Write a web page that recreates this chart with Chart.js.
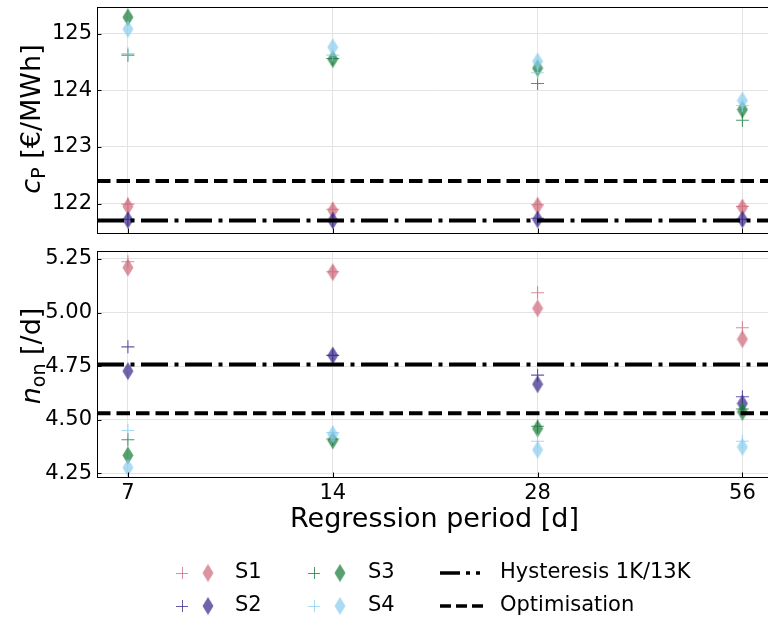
<!DOCTYPE html>
<html>
<head>
<meta charset="utf-8">
<script src="https://cdn.jsdelivr.net/npm/chart.js@4.4.1/dist/chart.umd.min.js"></script>
<style>
html, body { margin: 0; padding: 0; overflow: hidden; background: #fff; }
#wrap { position: relative; width: 768px; height: 622px; }
#top { position: absolute; left: 0; top: 0; }
#bottom { position: absolute; left: 0; top: 240px; }
</style>
</head>
<body>
<div id="wrap">
  <canvas id="top" width="768" height="240"></canvas>
  <canvas id="bottom" width="768" height="382"></canvas>
</div>
<script>
const periods = ['7', '14', '28', '56'];
const seriesNames = ['S1', 'S2', 'S3', 'S4'];
const seriesColors = ['204, 102, 119', '51, 34, 136', '17, 119, 51', '136, 204, 238'];

// cost c_P [€/MWh], "+" and diamond markers
const costPlusS1 = [121.99, 121.90, 121.98, 121.95];
const costPlusS2 = [121.72, 121.70, 121.74, 121.72];
const costPlusS3 = [124.62, 124.56, 124.12, 123.47];
const costPlusS4 = [124.65, 124.62, 124.31, 123.73];
const costDiamondS1 = [121.95, 121.88, 121.96, 121.93];
const costDiamondS2 = [121.71, 121.70, 121.72, 121.72];
const costDiamondS3 = [125.29, 124.55, 124.39, 123.66];
const costDiamondS4 = [125.08, 124.76, 124.51, 123.82];

// starts per day n_on [/d]
const startsPlusS1 = [5.237, 5.19, 5.092, 4.929];
const startsPlusS2 = [4.84, 4.80, 4.708, 4.607];
const startsPlusS3 = [4.407, 4.41, 4.47, 4.55];
const startsPlusS4 = [4.45, 4.44, 4.40, 4.40];
const startsDiamondS1 = [5.21, 5.188, 5.02, 4.876];
const startsDiamondS2 = [4.727, 4.80, 4.666, 4.576];
const startsDiamondS3 = [4.334, 4.404, 4.459, 4.537];
const startsDiamondS4 = [4.277, 4.432, 4.36, 4.373];

// reference lines
const hysteresisCost = 121.70;
const optimisationCost = 122.40;
const hysteresisStarts = 4.758;
const optimisationStarts = 4.530;

const costTicks = [122, 123, 124, 125];
const startsTicks = [4.25, 4.50, 4.75, 5.00, 5.25];

const xMin = -0.151, xMax = 3.125;
const FONT = 'DejaVu Sans';

function toPoints(arr) {
  return arr.map((v, i) => ({ x: i, y: v }));
}

function diamondImage(rgb) {
  const c = document.createElement('canvas');
  c.width = 12; c.height = 19;
  const g = c.getContext('2d');
  g.fillStyle = 'rgba(' + rgb + ', 0.7)';
  g.beginPath();
  g.moveTo(6, 0.5); g.lineTo(11.5, 9.5); g.lineTo(6, 18.5); g.lineTo(0.5, 9.5);
  g.closePath();
  g.fill();
  return c;
}
const diamonds = seriesColors.map(diamondImage);

function buildDatasets(plusArrays, diamondArrays, hyst, opt) {
  const out = [];
  seriesNames.forEach((name, i) => {
    const col = 'rgba(' + seriesColors[i] + ', 0.75)';
    out.push({
      label: name + ' (+)', data: toPoints(plusArrays[i]),
      pointStyle: 'cross', pointRadius: 6.5, borderColor: col, backgroundColor: col,
      borderWidth: 1.1, order: 100 - 2 * i
    });
    out.push({
      label: name, data: toPoints(diamondArrays[i]),
      pointStyle: diamonds[i], pointRadius: 9, order: 99 - 2 * i
    });
  });
  out.push({
    label: 'Hysteresis 1K/13K', data: [{ x: xMin, y: hyst }, { x: xMax, y: hyst }],
    showLine: true, pointRadius: 0, borderColor: '#000', borderWidth: 4,
    borderDash: [27, 6.5, 4, 6.5], borderCapStyle: 'butt', order: 1
  });
  out.push({
    label: 'Optimisation', data: [{ x: xMin, y: opt }, { x: xMax, y: opt }],
    showLine: true, pointRadius: 0, borderColor: '#000', borderWidth: 4,
    borderDash: [13.5, 6], borderCapStyle: 'butt', order: 0
  });
  return out;
}

function drawMathLabel(ctx, parts, x, y) {
  ctx.save();
  ctx.translate(x, y);
  ctx.rotate(-Math.PI / 2);
  ctx.fillStyle = '#000';
  ctx.textBaseline = 'alphabetic';
  let w = 0;
  parts.forEach(p => { ctx.font = p.font; w += ctx.measureText(p.text).width; });
  let cx = -w / 2;
  parts.forEach(p => {
    ctx.font = p.font;
    ctx.fillText(p.text, cx, p.dy);
    cx += ctx.measureText(p.text).width;
  });
  ctx.restore();
}

function axesPlugin(id, labelParts, labelY, extra) {
  return {
    id: id,
    afterDraw(chart) {
      const ctx = chart.ctx;
      const a = chart.chartArea;
      ctx.save();
      ctx.strokeStyle = '#000';
      ctx.lineWidth = 1;
      // inward ticks
      ctx.beginPath();
      chart.scales.y.ticks.forEach(t => {
        const py = Math.round(chart.scales.y.getPixelForValue(t.value)) + 0.5;
        ctx.moveTo(a.left, py); ctx.lineTo(a.left + 4.5, py);
      });
      chart.scales.x.ticks.forEach(t => {
        const px = Math.round(chart.scales.x.getPixelForValue(t.value)) + 0.5;
        ctx.moveTo(px, a.bottom); ctx.lineTo(px, a.bottom - 4.5);
      });
      ctx.stroke();
      ctx.strokeRect(Math.round(a.left) + 0.5, Math.round(a.top) + 0.5,
        Math.round(a.right - a.left), Math.round(a.bottom - a.top));
      ctx.restore();
      drawMathLabel(ctx, labelParts, 40, labelY);
      if (extra) extra(ctx, chart);
    }
  };
}

function makeConfig(datasets, yMin, yMax, yTicks, yFmt, showX, plugin, padding, xHeight) {
  return {
    type: 'scatter',
    data: { datasets: datasets },
    options: {
      responsive: false,
      animation: false,
      layout: { padding: padding, autoPadding: false },
      plugins: { legend: { display: false }, tooltip: { enabled: false } },
      scales: {
        x: {
          type: 'linear', min: xMin, max: xMax,
          afterBuildTicks: s => { s.ticks = periods.map((p, i) => ({ value: i })); },
          afterFit: s => { s.height = xHeight; s.paddingLeft = 0; s.paddingRight = 0; },
          grid: { color: '#e3e3e3', lineWidth: 1, drawTicks: false },
          border: { display: false },
          ticks: {
            display: showX, padding: 4, color: '#000',
            font: { family: FONT, size: 21 },
            callback: (v, i) => periods[i]
          }
        },
        y: {
          min: yMin, max: yMax,
          afterBuildTicks: s => { s.ticks = yTicks.map(v => ({ value: v })); },
          afterFit: s => { s.width = 97; s.paddingTop = 0; s.paddingBottom = 0; },
          grid: { color: '#e3e3e3', lineWidth: 1, drawTicks: false },
          border: { display: false },
          ticks: {
            padding: 5, color: '#000',
            font: { family: FONT, size: 21 },
            callback: v => yFmt(v)
          }
        }
      }
    },
    plugins: [plugin]
  };
}

function drawLegend(ctx, chart) {
  const rows = [333, 366];
  const cols = [[182, 208, 235], [314, 340, 368]];
  ctx.save();
  ctx.font = '21px ' + FONT;
  ctx.textBaseline = 'middle';
  ctx.fillStyle = '#000';
  seriesNames.forEach((name, i) => {
    const col = cols[Math.floor(i / 2)];
    const y = rows[i % 2];
    ctx.strokeStyle = 'rgba(' + seriesColors[i] + ', 0.75)';
    ctx.lineWidth = 1;
    ctx.beginPath();
    ctx.moveTo(col[0] - 6, y + 0.5); ctx.lineTo(col[0] + 6, y + 0.5);
    ctx.moveTo(col[0] + 0.5, y - 6); ctx.lineTo(col[0] + 0.5, y + 6);
    ctx.stroke();
    ctx.drawImage(diamonds[i], col[1] - 6, y - 9.5);
    ctx.fillText(name, col[2], y);
  });
  const lineItems = [
    { label: 'Hysteresis 1K/13K', dash: [20, 6, 4, 6, 4, 6] },
    { label: 'Optimisation', dash: [11, 5] }
  ];
  lineItems.forEach((it, k) => {
    const y = rows[k];
    ctx.strokeStyle = '#000';
    ctx.lineWidth = 3.5;
    ctx.setLineDash(it.dash);
    ctx.beginPath();
    ctx.moveTo(440, y); ctx.lineTo(483, y);
    ctx.stroke();
    ctx.setLineDash([]);
    ctx.fillText(it.label, 500, y);
  });
  ctx.restore();
}

function drawXTitle(ctx, chart) {
  const a = chart.chartArea;
  ctx.save();
  ctx.font = '27px ' + FONT;
  ctx.fillStyle = '#000';
  ctx.textAlign = 'center';
  ctx.textBaseline = 'alphabetic';
  ctx.fillText('Regression period [d]', (a.left + a.right) / 2 + 2, 287);
  ctx.restore();
  drawLegend(ctx, chart);
}

const costLabel = [
  { text: 'c', font: 'italic 27px ' + FONT, dy: 0 },
  { text: 'P', font: '19px ' + FONT, dy: 5 },
  { text: ' [€/MWh]', font: '27px ' + FONT, dy: 0 }
];
const startsLabel = [
  { text: 'n', font: 'italic 27px ' + FONT, dy: 0 },
  { text: 'on', font: '19px ' + FONT, dy: 5 },
  { text: ' [/d]', font: '27px ' + FONT, dy: 0 }
];

const costChart = new Chart(
  document.getElementById('top'),
  makeConfig(
    buildDatasets([costPlusS1, costPlusS2, costPlusS3, costPlusS4],
      [costDiamondS1, costDiamondS2, costDiamondS3, costDiamondS4],
      hysteresisCost, optimisationCost),
    121.48, 125.47, costTicks, v => String(v), false,
    axesPlugin('costAxes', costLabel, 119, null),
    { left: 0, top: 7, right: 0, bottom: 0 }, 7
  )
);

const startsChart = new Chart(
  document.getElementById('bottom'),
  makeConfig(
    buildDatasets([startsPlusS1, startsPlusS2, startsPlusS3, startsPlusS4],
      [startsDiamondS1, startsDiamondS2, startsDiamondS3, startsDiamondS4],
      hysteresisStarts, optimisationStarts),
    4.233, 5.287, startsTicks, v => v.toFixed(2), true,
    axesPlugin('startsAxes', startsLabel, 116, drawXTitle),
    { left: 0, top: 11, right: 0, bottom: 0 }, 145
  )
);
</script>
</body>
</html>
